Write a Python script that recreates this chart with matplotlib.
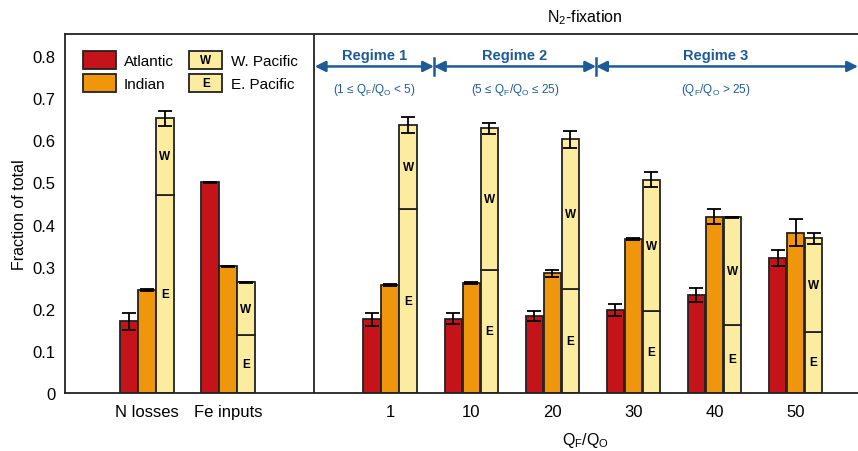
import matplotlib
matplotlib.use('Agg')
import matplotlib.pyplot as plt
import numpy as np
from matplotlib.patches import Rectangle, Patch
from matplotlib.text import Text
from matplotlib.legend_handler import HandlerBase

plt.rcParams['font.family'] = ['Liberation Sans', 'DejaVu Sans']
plt.rcParams['mathtext.default'] = 'regular'

# data
groups = ['N losses', 'Fe inputs', '1', '10', '20', '30', '40', '50']
xpos = [0, 1, 3, 4, 5, 6, 7, 8]
atlantic = [0.170, 0.500, 0.175, 0.177, 0.182, 0.197, 0.233, 0.320]
atlantic_err = [0.021, 0.001, 0.016, 0.013, 0.012, 0.014, 0.017, 0.019]
indian = [0.245, 0.301, 0.257, 0.261, 0.284, 0.366, 0.419, 0.380]
indian_err = [0.002, 0.001, 0.002, 0.002, 0.008, 0.003, 0.018, 0.032]
east_pac = [0.471, 0.138, 0.438, 0.293, 0.246, 0.194, 0.161, 0.146]
pacific_total = [0.652, 0.263, 0.636, 0.628, 0.602, 0.506, 0.417, 0.367]
pacific_err = [0.018, 0.001, 0.018, 0.014, 0.020, 0.018, 0.002, 0.013]

regimes = ['Regime 1', 'Regime 2', 'Regime 3']
regime_ranges = [r'(1 ≤ Q$_F$/Q$_O$ < 5)', r'(5 ≤ Q$_F$/Q$_O$ ≤ 25)', r'(Q$_F$/Q$_O$ > 25)']
regime_edges = [2.07, 3.54, 5.54, 8.77]

c_red = '#c5131a'
c_orange = '#f0960c'
c_yellow = '#fbeca0'
c_blue = '#1d5b98'

west_pac = np.array(pacific_total) - np.array(east_pac)
x = np.array(xpos, dtype=float)
w = 0.215
off = 0.222

fig = plt.figure(figsize=(8.58, 4.52), dpi=100)
ax = fig.add_axes([0.0758, 0.128, 1 - 0.0758, 0.7946])

ekw = dict(ecolor='black', elinewidth=1.3, capsize=5, capthick=1.3)
ax.bar(x - off, atlantic, w, color=c_red, edgecolor='#222222', linewidth=1.3,
       yerr=atlantic_err, error_kw=ekw, zorder=2)
ax.bar(x, indian, w, color=c_orange, edgecolor='#222222', linewidth=1.3,
       yerr=indian_err, error_kw=ekw, zorder=2)
ax.bar(x + off, east_pac, w, color=c_yellow, edgecolor='#222222', linewidth=1.3, zorder=2)
ax.bar(x + off, west_pac, w, bottom=east_pac, color=c_yellow, edgecolor='#222222',
       linewidth=1.3, yerr=pacific_err, error_kw=ekw, zorder=2)

for xi, e, wp in zip(x, east_pac, west_pac):
    ax.text(xi + off, e / 2, 'E', ha='center', va='center', fontsize=8.5, fontweight='bold')
    ax.text(xi + off, e + wp / 2, 'W', ha='center', va='center', fontsize=8.5, fontweight='bold')

ax.set_xlim(-1.01, 8.77)
ax.set_ylim(0, 0.852)
ax.set_yticks(np.arange(0, 0.81, 0.1))
ax.set_yticklabels(['0', '0.1', '0.2', '0.3', '0.4', '0.5', '0.6', '0.7', '0.8'])
ax.set_xticks(x)
ax.set_xticklabels(groups)
ax.tick_params(axis='both', length=0, labelsize=12)
ax.tick_params(axis='y', pad=7)
ax.tick_params(axis='x', pad=8)
ax.set_ylabel('Fraction of total', fontsize=11.5, labelpad=4)
ax.spines['right'].set_visible(False)
for s in ['left', 'top', 'bottom']:
    ax.spines[s].set_linewidth(1.3)
    ax.spines[s].set_color('#222222')
ax.axvline(2.06, color='#222222', lw=1.3)

# regimes
ya = 0.775
for i in range(3):
    ax.annotate('', xy=(regime_edges[i], ya), xytext=(regime_edges[i + 1], ya),
                arrowprops=dict(arrowstyle='<|-|>', color=c_blue, lw=1.8,
                                mutation_scale=16, shrinkA=0, shrinkB=0),
                annotation_clip=False)
    mid = (regime_edges[i] + regime_edges[i + 1]) / 2
    if i == 2:
        mid = 7.02
    ax.text(mid, 0.802, regimes[i], ha='center', va='center', color=c_blue,
            fontsize=10.5, fontweight='bold')
    ax.text(mid, 0.722, regime_ranges[i], ha='center', va='center', color=c_blue, fontsize=8.5)
for xe in regime_edges[1:3]:
    ax.plot([xe, xe], [0.754, 0.794], color=c_blue, lw=1.8)

fig.text(0.682, 0.96, 'N$_2$-fixation', ha='center', va='center', fontsize=11.5)
fig.text(0.682, 0.026, 'Q$_F$/Q$_O$', ha='center', va='center', fontsize=11.5)


class LetterHandler(HandlerBase):
    def __init__(self, letter):
        super().__init__()
        self.letter = letter

    def create_artists(self, legend, orig_handle, xdescent, ydescent, width, height, fontsize, trans):
        r = Rectangle((-xdescent, -ydescent), width, height, facecolor=orig_handle.get_facecolor(),
                      edgecolor='#222222', linewidth=1.3, transform=trans)
        t = Text(-xdescent + width / 2, -ydescent + height / 2, self.letter, ha='center',
                 va='center', fontsize=8.5, fontweight='bold', transform=trans)
        return [r, t]


h_atl = Patch(facecolor=c_red, edgecolor='#222222', linewidth=1.3)
h_ind = Patch(facecolor=c_orange, edgecolor='#222222', linewidth=1.3)
h_w = Patch(facecolor=c_yellow, edgecolor='#222222')
h_e = Patch(facecolor=c_yellow, edgecolor='#222222')
ax.legend([h_atl, h_ind, h_w, h_e], ['Atlantic', 'Indian', 'W. Pacific', 'E. Pacific'],
          handler_map={h_w: LetterHandler('W'), h_e: LetterHandler('E')},
          ncol=2, frameon=False, fontsize=11, loc='upper left', bbox_to_anchor=(0.005, 0.99),
          handlelength=2.15, handleheight=1.4, handletextpad=0.55, labelspacing=0.35,
          columnspacing=1.0)

fig.savefig('out.png', dpi=100)
